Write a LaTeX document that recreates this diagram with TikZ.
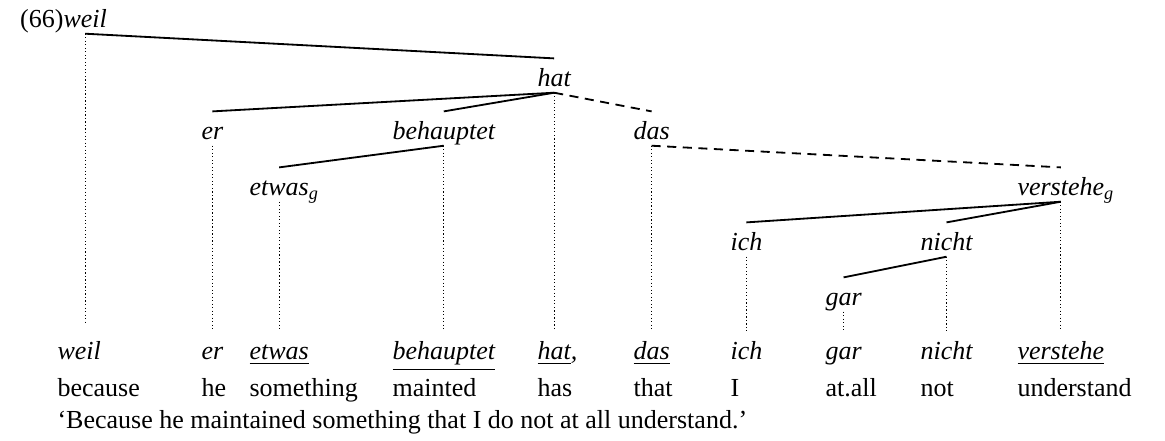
\documentclass[tikz,border=0pt]{standalone}
\usepackage{fontspec}
\setmainfont{Liberation Serif}

\begin{document}
\begin{tikzpicture}[x=0.3846pt,y=-0.3846pt,
 word/.style={anchor=base west,inner xsep=0pt,inner ysep=2pt,text height=8.8pt,text depth=0pt,font=\itshape},
 gloss/.style={anchor=base west,inner sep=0pt},
 branch/.style={draw=black,line width=.7pt},
 hook/.style={draw=black,line width=.7pt,dash pattern=on 3.5pt off 2.5pt},
 proj/.style={draw=black,line width=.45pt,dash pattern=on .45pt off .9pt}
]
\useasboundingbox (0,0) rectangle (1165,441);
\node[word] (weil) at (63,28) {\llap{\upshape(66)}weil};
\node[word] (hat) at (537,87) {hat};
\node[word] (er) at (201,140) {er};
\node[word] (behauptet) at (392,140) {behauptet};
\node[word] (das) at (633,140) {das};
\node[word] (etwas) at (249,196) {etwas\rlap{\textsubscript{g}}};
\node[word] (verstehe) at (1017,196) {verstehe\rlap{\textsubscript{g}}};
\node[word] (ich) at (730,251) {ich};
\node[word] (nicht) at (920,251) {nicht};
\node[word] (gar) at (825,306) {gar};
\node[word] (weilW) at (57,360) {weil};
\node[word] (erW) at (201,360) {er};
\node[word] (etwasW) at (249,360) {\underline{etwas}};
\node[word] (behauptetW) at (392,360) {\underline{behauptet}};
\node[word] (hatW) at (537,360) {\underline{hat},};
\node[word] (dasW) at (633,360) {\underline{das}};
\node[word] (ichW) at (730,360) {ich};
\node[word] (garW) at (825,360) {gar};
\node[word] (nichtW) at (920,360) {nicht};
\node[word] (versteheW) at (1017,360) {\underline{verstehe}};
\node[gloss] (because) at (57,397) {because};
\node[gloss] (he) at (201,397) {he};
\node[gloss] (something) at (249,397) {something};
\node[gloss] (mainted) at (392,397) {mainted};
\node[gloss] (has) at (537,397) {has};
\node[gloss] (that) at (633,397) {that};
\node[gloss] (I) at (730,397) {I};
\node[gloss] (atall) at (825,397) {at.all};
\node[gloss] (not) at (920,397) {not};
\node[gloss] (understand) at (1017,397) {understand};
\node[gloss] (trans) at (57,429) {‘Because he maintained something that I do not at all understand.’};
\draw[branch] (weil.south)--(hat.north);
\draw[branch] (hat.south)--(er.north);
\draw[branch] (hat.south)--(behauptet.north);
\draw[hook] (hat.south)--(das.north);
\draw[branch] (behauptet.south)--(etwas.north);
\draw[hook] (das.south)--(verstehe.north);
\draw[branch] (verstehe.south)--(ich.north);
\draw[branch] (verstehe.south)--(nicht.north);
\draw[branch] (nicht.south)--(gar.north);
\draw[proj,shorten >=3.5pt] (weil.south)--(weil.south |- weilW.north);
\draw[proj] (er.south)--(er.south |- erW.north);
\draw[proj] (etwas.south)--(etwas.south |- etwasW.north);
\draw[proj] (behauptet.south)--(behauptet.south |- behauptetW.north);
\draw[proj] (hat.south)--(hat.south |- hatW.north);
\draw[proj] (das.south)--(das.south |- dasW.north);
\draw[proj] (ich.south)--(ich.south |- ichW.north);
\draw[proj] (gar.south)--(gar.south |- garW.north);
\draw[proj] (nicht.south)--(nicht.south |- nichtW.north);
\draw[proj] (verstehe.south)--(verstehe.south |- versteheW.north);
\end{tikzpicture}
\end{document}
